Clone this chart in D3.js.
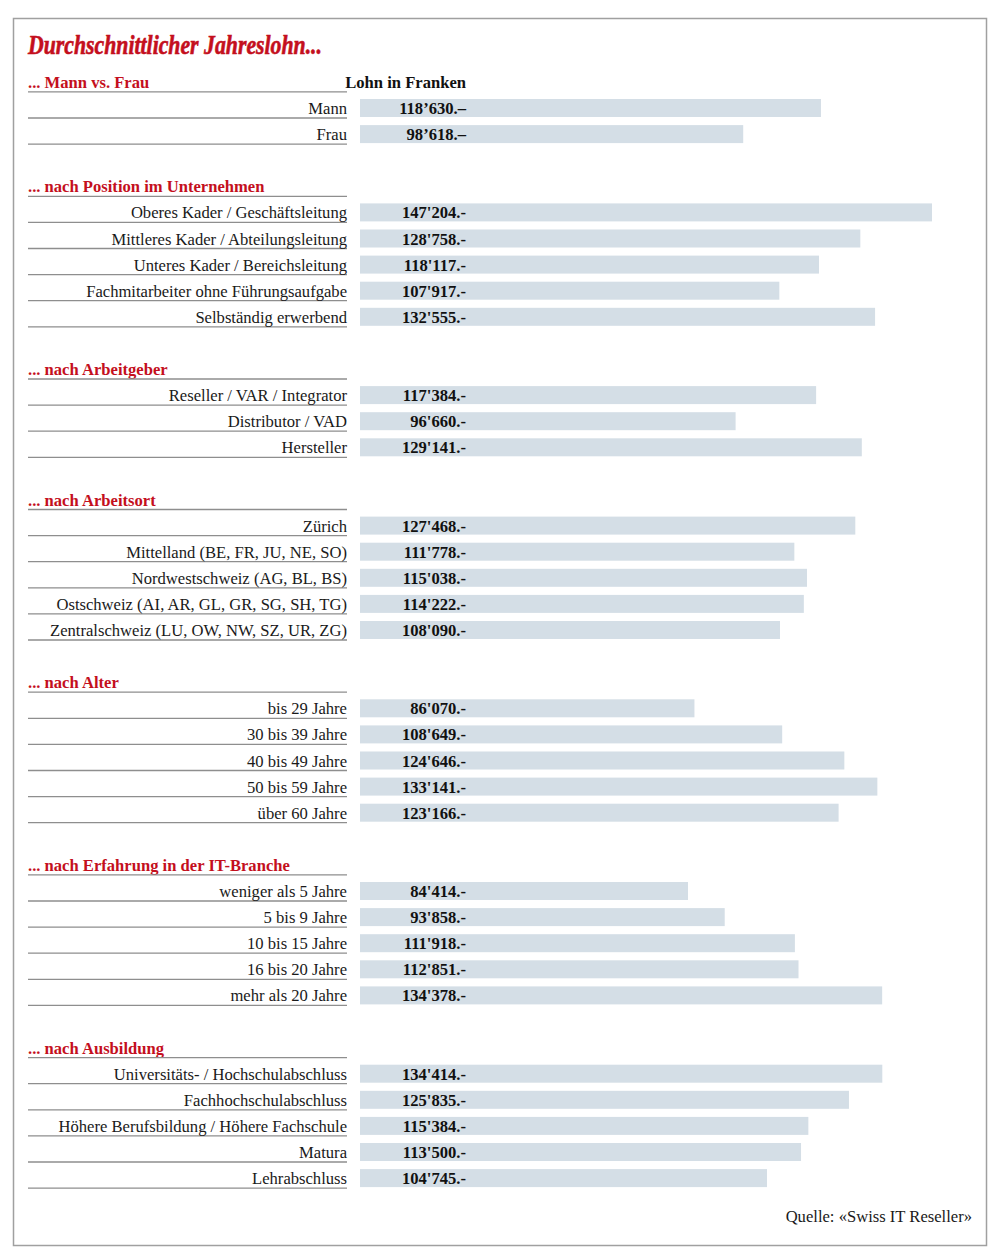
<!DOCTYPE html>
<html><head><meta charset="utf-8">
<script src="https://cdn.jsdelivr.net/npm/d3@7"></script>
<style>
html,body{margin:0;padding:0;background:#fff;}
svg{display:block;}
</style></head>
<body>
<svg id="chart" width="1000" height="1256"></svg>
<script>
const title = "Durchschnittlicher Jahreslohn...";
const valueHeader = "Lohn in Franken";
const source = "Quelle: «Swiss IT Reseller»";

const sections = [
  "... Mann vs. Frau",
  "... nach Position im Unternehmen",
  "... nach Arbeitgeber",
  "... nach Arbeitsort",
  "... nach Alter",
  "... nach Erfahrung in der IT-Branche",
  "... nach Ausbildung"
];

const catGender = ["Mann", "Frau"];
const valGender = [118630, 98618];

const catPosition = ["Oberes Kader / Geschäftsleitung", "Mittleres Kader / Abteilungsleitung", "Unteres Kader / Bereichsleitung", "Fachmitarbeiter ohne Führungsaufgabe", "Selbständig erwerbend"];
const valPosition = [147204, 128758, 118117, 107917, 132555];

const catEmployer = ["Reseller / VAR / Integrator", "Distributor / VAD", "Hersteller"];
const valEmployer = [117384, 96660, 129141];

const catRegion = ["Zürich", "Mittelland (BE, FR, JU, NE, SO)", "Nordwestschweiz (AG, BL, BS)", "Ostschweiz (AI, AR, GL, GR, SG, SH, TG)", "Zentralschweiz (LU, OW, NW, SZ, UR, ZG)"];
const valRegion = [127468, 111778, 115038, 114222, 108090];

const catAge = ["bis 29 Jahre", "30 bis 39 Jahre", "40 bis 49 Jahre", "50 bis 59 Jahre", "über 60 Jahre"];
const valAge = [86070, 108649, 124646, 133141, 123166];

const catExperience = ["weniger als 5 Jahre", "5 bis 9 Jahre", "10 bis 15 Jahre", "16 bis 20 Jahre", "mehr als 20 Jahre"];
const valExperience = [84414, 93858, 111918, 112851, 134378];

const catEducation = ["Universitäts- / Hochschulabschluss", "Fachhochschulabschluss", "Höhere Berufsbildung / Höhere Fachschule", "Matura", "Lehrabschluss"];
const valEducation = [134414, 125835, 115384, 113500, 104745];

const groups = [
  [catGender, valGender],
  [catPosition, valPosition],
  [catEmployer, valEmployer],
  [catRegion, valRegion],
  [catAge, valAge],
  [catExperience, valExperience],
  [catEducation, valEducation]
];

const RED = "#c40f1d";
const BAR = "#d4dee6";
const LINE = "#8e8e8e";
const SERIF = "'Liberation Serif','Times New Roman',serif";
const FS = 16.6;

const svg = d3.select("#chart");

// frame
svg.append("rect").attr("x", 13.5).attr("y", 18.5).attr("width", 973).attr("height", 1227)
  .attr("fill", "none").attr("stroke", "#a0a0a0").attr("stroke-width", 1.5);

// build slot list
const slots = [];
groups.forEach((g, gi) => {
  if (gi > 0) slots.push({key: "s" + gi, type: "spacer"});
  slots.push({key: "h" + gi, type: "header", text: sections[gi], gi});
  g[0].forEach((c, i) => slots.push({key: "r" + gi + "-" + i, type: "row", label: c, value: g[1][i], gi}));
});

const step = 26.1;
const top0 = 68.85;
const y = d3.scaleBand().domain(slots.map(d => d.key)).range([top0, top0 + step * slots.length]).padding(0);
const cy = k => y(k) + y.bandwidth() / 2;

const x = d3.scaleLinear().domain([0, 147204]).range([360, 932]);

const fmtNum = d3.format(",d");
function fmt(v, gi) {
  const s = fmtNum(v);
  return gi === 0 ? s.replace(/,/g, "\u2019") + ".\u2013" : s.replace(/,/g, "'") + ".-";
}

// title
svg.append("text").attr("x", 28).attr("y", 54)
  .attr("font-family", SERIF).attr("font-weight", "bold").attr("font-style", "italic")
  .attr("font-size", 27).attr("fill", RED).attr("stroke", RED).attr("stroke-width", 0.6)
  .attr("textLength", 294).attr("lengthAdjust", "spacingAndGlyphs")
  .text(title);

// value header
svg.append("text").attr("x", 466).attr("y", cy("h0") + 6)
  .attr("text-anchor", "end").attr("font-family", SERIF).attr("font-weight", "bold")
  .attr("font-size", FS).attr("fill", "#111").text(valueHeader);

const headers = slots.filter(d => d.type === "header");
const rows = slots.filter(d => d.type === "row");

// header texts
svg.selectAll("text.hdr").data(headers).join("text").attr("class", "hdr")
  .attr("x", 28).attr("y", d => cy(d.key) + 6)
  .attr("font-family", SERIF).attr("font-weight", "bold").attr("font-size", FS).attr("fill", RED)
  .text(d => d.text);

// rules
svg.selectAll("line.hl").data(headers.concat(rows)).join("line").attr("class", "hl")
  .attr("x1", 28).attr("x2", 347)
  .attr("y1", d => cy(d.key) + 10).attr("y2", d => cy(d.key) + 10)
  .attr("stroke", LINE).attr("stroke-width", 1.3);

// bars
svg.selectAll("rect.bar").data(rows).join("rect").attr("class", "bar")
  .attr("x", x(0)).attr("width", d => x(d.value) - x(0))
  .attr("y", d => cy(d.key) - 9).attr("height", 18)
  .attr("fill", BAR);

// labels
svg.selectAll("text.lbl").data(rows).join("text").attr("class", "lbl")
  .attr("x", 347).attr("y", d => cy(d.key) + 6).attr("text-anchor", "end")
  .attr("font-family", SERIF).attr("font-size", FS).attr("fill", "#1a1a1a")
  .text(d => d.label);

// values
svg.selectAll("text.val").data(rows).join("text").attr("class", "val")
  .attr("x", 466).attr("y", d => cy(d.key) + 6).attr("text-anchor", "end")
  .attr("font-family", SERIF).attr("font-weight", "bold").attr("font-size", FS).attr("fill", "#111")
  .text(d => fmt(d.value, d.gi));

// source
svg.append("text").attr("x", 972).attr("y", 1222).attr("text-anchor", "end")
  .attr("font-family", SERIF).attr("font-size", FS).attr("fill", "#1a1a1a").text(source);
</script>
</body></html>
